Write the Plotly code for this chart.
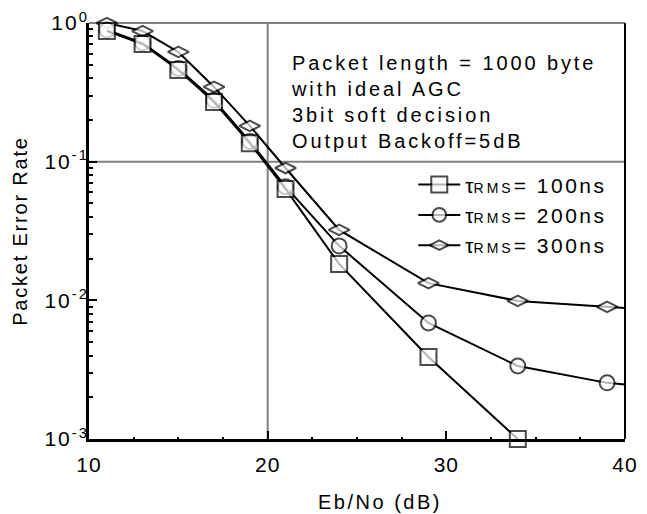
import plotly.graph_objects as go

# ---- data ----
ebno_100 = [11, 13, 15, 17, 19, 21, 24, 29, 34]
per_100 = [0.875, 0.706, 0.458, 0.269, 0.136, 0.0636, 0.0183, 0.0039, 0.001]

ebno_200 = [11, 13, 15, 17, 19, 21, 24, 29, 34, 39, 40]
per_200 = [0.89, 0.72, 0.47, 0.277, 0.14, 0.066, 0.0247, 0.00687, 0.00336, 0.00254, 0.00247]

ebno_300 = [11, 13, 15, 17, 19, 21, 24, 29, 34, 39, 40]
per_300 = [1.0, 0.875, 0.618, 0.346, 0.181, 0.090, 0.0322, 0.0133, 0.0099, 0.00896, 0.0088]

names = ["100ns", "200ns", "300ns"]
x_ticks = [10, 20, 30, 40]
y_ticks = [1e-3, 1e-2, 1e-1, 1]
y_ticktext = ["10<sup>-3</sup>", "10<sup>-2</sup>", "10<sup>-1</sup>", "10<sup>0</sup>"]
note_lines = ["Packet length = 1000 byte", "with ideal AGC", "3bit soft decision",
              "Output Backoff=5dB"]

FONT = "Liberation Sans, Arial, sans-serif"


def spaced(t, px):
    return f"<span style='letter-spacing:{px}px'>{t}</span>"


def legend_label(n):
    return ("τ<span style='font-size:14px;letter-spacing:3px'>RMS</span>"
            + spaced("= " + n, 2.5))


series = [
    (ebno_300, per_300, "diamond-wide", 15, names[2], 3),
    (ebno_200, per_200, "circle", 15, names[1], 2),
    (ebno_100, per_100, "square", 16, names[0], 1),
]

fig = go.Figure()
for xs, ys, sym, sz, nm, rank in series:
    # last point of the 200/300 series is the curve running into the right frame
    sizes = [sz] * len(xs)
    if xs[-1] == 40:
        sizes[-1] = 0
    fig.add_trace(go.Scatter(
        x=xs, y=ys, mode="lines+markers", name=legend_label(nm),
        legendrank=rank, legendgroup=nm, cliponaxis=False,
        line=dict(color="black", width=2),
        marker=dict(symbol=sym, size=sizes, color="white",
                    line=dict(color="black", width=2)),
    ))

minor_y = [m * 10.0 ** e for e in (-3, -2, -1) for m in range(2, 10)]

# the page body adds an 8px offset, so the figure is 8px smaller on each side
fig.update_layout(
    width=639, height=506,
    margin=dict(l=81, r=22, t=15, b=75),
    paper_bgcolor="white", plot_bgcolor="white",
    font=dict(family=FONT, size=20, color="black"),
    showlegend=True,
    legend=dict(x=0.605, y=0.66, xanchor="left", yanchor="top",
                bgcolor="rgba(0,0,0,0)", borderwidth=0,
                font=dict(size=21), itemwidth=42,
                traceorder="grouped", tracegroupgap=0),
    xaxis=dict(range=[10, 40], tickvals=x_ticks, ticktext=[spaced(str(v), 1) for v in x_ticks],
               tickfont=dict(size=21),
               ticks="inside", ticklen=8, tickwidth=2, tickcolor="black",
               showline=True, linecolor="black", linewidth=3, mirror=False,
               showgrid=False, zeroline=False, ticklabelstandoff=5, automargin=False,
               minor=dict(dtick=2.5, ticks="inside", ticklen=2, tickwidth=2,
                          tickcolor="black", showgrid=False)),
    yaxis=dict(type="log", range=[-3, 0], tickvals=y_ticks, ticktext=[spaced(t, 2) for t in y_ticktext],
               tickfont=dict(size=21),
               ticks="inside", ticklen=8, tickwidth=2, tickcolor="black",
               showline=True, linecolor="black", linewidth=3, mirror=False,
               showgrid=False, zeroline=False, ticklabelstandoff=-7, automargin=False,
               minor=dict(tickvals=minor_y, ticks="inside", ticklen=4, tickwidth=1.5,
                          tickcolor="black", showgrid=False)),
)

# reference lines at 20 dB and 10^-1, frame on top and right
fig.add_shape(type="line", xref="x", yref="paper", x0=20, x1=20, y0=0, y1=1,
              line=dict(color="#808080", width=2), layer="below")
fig.add_shape(type="line", xref="paper", yref="y", x0=0, x1=1, y0=0.1, y1=0.1,
              line=dict(color="#808080", width=2), layer="below")
fig.add_shape(type="line", xref="paper", yref="paper", x0=0, x1=1, y0=1, y1=1,
              line=dict(color="#808080", width=2), layer="below")
fig.add_shape(type="line", xref="paper", yref="paper", x0=1, x1=1, y0=0, y1=1,
              line=dict(color="black", width=2), layer="above")

fig.add_annotation(xref="paper", yref="paper", x=0.373, y=0.935, xanchor="left", yanchor="top",
                   align="left", showarrow=False,
                   text="<br>".join(spaced(t, 2.9) for t in note_lines),
                   font=dict(size=20))

fig.add_annotation(xref="paper", yref="paper", x=0.543, y=-0.152, xanchor="center", yanchor="middle",
                   showarrow=False, text=spaced("Eb/No (dB)", 2.5), font=dict(size=20))
fig.add_annotation(xref="paper", yref="paper", x=-0.129, y=0.5, xanchor="center", yanchor="middle",
                   showarrow=False, textangle=-90, text=spaced("Packet Error Rate", 1.8),
                   font=dict(size=20))

fig.write_html("out.html")
